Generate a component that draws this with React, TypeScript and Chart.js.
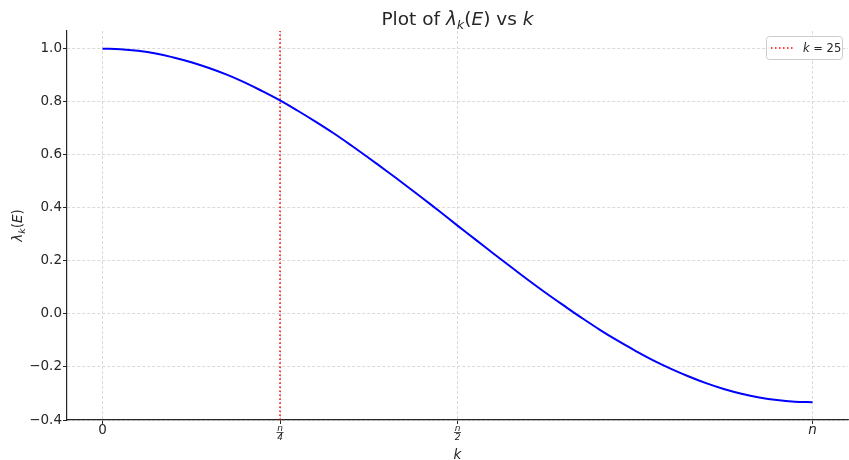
import React, { useEffect, useRef } from 'react';
import { Chart, registerables } from 'chart.js';

Chart.register(...registerables);

// ---- data ----
const kValues = [
  0, 2.5, 5, 7.5, 10, 12.5, 15, 17.5, 20, 22.5, 25, 27.5, 30, 32.5, 35, 37.5, 40, 42.5, 45, 47.5, 50,
  52.5, 55, 57.5, 60, 62.5, 65, 67.5, 70, 72.5, 75, 77.5, 80, 82.5, 85, 87.5, 90, 92.5, 95, 97.5, 100,
];
const lambdaValues = [
  1.0, 0.998, 0.992, 0.982, 0.967, 0.949, 0.927, 0.902, 0.873, 0.84, 0.805, 0.766, 0.725, 0.682,
  0.636, 0.588, 0.539, 0.489, 0.438, 0.386, 0.333, 0.281, 0.229, 0.178, 0.127, 0.078, 0.031,
  -0.015, -0.059, -0.1, -0.138, -0.174, -0.206, -0.235, -0.261, -0.283, -0.301, -0.315, -0.325,
  -0.331, -0.333,
];
const markerK = 25;
const xTickValues = [0, 25, 50, 100];
const xTickLabels: (string | string[])[] = ['0', ['n', '4'], ['n', '2'], 'n'];
const yTickValues = [-0.4, -0.2, 0.0, 0.2, 0.4, 0.6, 0.8, 1.0];
const xMin = -5;
const xMax = 105;
const yMin = -0.4;
const yMax = 1.0667;

const FONT = '"DejaVu Sans", sans-serif';
const TEXT = '#262626';

type Run = { text: string; italic?: boolean; sub?: boolean };

const titleRuns: Run[] = [
  { text: 'Plot of ' },
  { text: 'λ', italic: true },
  { text: 'k', italic: true, sub: true },
  { text: '(' },
  { text: 'E', italic: true },
  { text: ')' },
  { text: ' vs ' },
  { text: 'k', italic: true },
];
const yLabelRuns: Run[] = [
  { text: 'λ', italic: true },
  { text: 'k', italic: true, sub: true },
  { text: '(' },
  { text: 'E', italic: true },
  { text: ')' },
];
const xLabelRuns: Run[] = [{ text: 'k', italic: true }];
const legendRuns: Run[] = [{ text: 'k', italic: true }, { text: ' = 25' }];

function runFont(size: number, r: Run) {
  const s = r.sub ? size * 0.7 : size;
  return `${r.italic ? 'italic ' : ''}${s}px ${FONT}`;
}

function measureRuns(ctx: CanvasRenderingContext2D, runs: Run[], size: number) {
  return runs.map((r) => {
    ctx.font = runFont(size, r);
    return ctx.measureText(r.text).width;
  });
}

function drawRuns(
  ctx: CanvasRenderingContext2D,
  runs: Run[],
  x: number,
  baseline: number,
  size: number,
  align: 'center' | 'left'
) {
  ctx.save();
  ctx.fillStyle = TEXT;
  ctx.textAlign = 'left';
  ctx.textBaseline = 'alphabetic';
  const widths = measureRuns(ctx, runs, size);
  const total = widths.reduce((a, b) => a + b, 0);
  let cx = align === 'center' ? x - total / 2 : x;
  runs.forEach((r, i) => {
    ctx.font = runFont(size, r);
    ctx.fillText(r.text, cx, baseline + (r.sub ? size * 0.22 : 0));
    cx += widths[i];
  });
  ctx.restore();
}

const decorPlugin = {
  id: 'decor',
  afterDraw(chart: any) {
    const ctx: CanvasRenderingContext2D = chart.ctx;
    const area = chart.chartArea;
    const cx = (area.left + area.right) / 2;
    const cy = (area.top + area.bottom) / 2;

    // title
    drawRuns(ctx, titleRuns, cx, 25, 18.5, 'center');
    // x label
    drawRuns(ctx, xLabelRuns, cx, 458.5, 13.5, 'center');
    // y label
    ctx.save();
    ctx.translate(22, cy);
    ctx.rotate(-Math.PI / 2);
    drawRuns(ctx, yLabelRuns, 0, 0, 13.5, 'center');
    ctx.restore();

    // fraction bars for n/4 and n/2 tick labels
    const xs = chart.scales.x;
    ctx.save();
    ctx.strokeStyle = TEXT;
    ctx.lineWidth = 0.8;
    xTickValues.forEach((v, i) => {
      if (Array.isArray(xTickLabels[i])) {
        const px = xs.getPixelForValue(v);
        ctx.beginPath();
        ctx.moveTo(px - 3.5, 432.5);
        ctx.lineTo(px + 3.5, 432.5);
        ctx.stroke();
      }
    });
    ctx.restore();

    // legend box
    const lw = 76;
    const lh = 23;
    const lx = area.right - 6 - lw;
    const ly = area.top + 5;
    ctx.save();
    ctx.fillStyle = 'rgba(255,255,255,0.85)';
    ctx.strokeStyle = '#cccccc';
    ctx.lineWidth = 1;
    ctx.beginPath();
    (ctx as any).roundRect(lx + 0.5, ly + 0.5, lw, lh, 3);
    ctx.fill();
    ctx.stroke();
    ctx.strokeStyle = 'red';
    ctx.lineWidth = 1.5;
    ctx.setLineDash([1.5, 2.5]);
    ctx.beginPath();
    ctx.moveTo(lx + 5, ly + lh / 2 + 0.5);
    ctx.lineTo(lx + 28, ly + lh / 2 + 0.5);
    ctx.stroke();
    ctx.restore();
    drawRuns(ctx, legendRuns, lx + 37, ly + 15.5, 11.5, 'left');
  },
};

export default function App() {
  const ref = useRef<HTMLCanvasElement | null>(null);

  useEffect(() => {
    if (!ref.current) return;
    const chart = new Chart(ref.current, {
      type: 'line',
      data: {
        datasets: [
          {
            label: 'curve',
            data: kValues.map((k, i) => ({ x: k, y: lambdaValues[i] })),
            borderColor: '#0000ff',
            borderWidth: 2,
            pointRadius: 0,
            tension: 0.4,
            fill: false,
          },
          {
            label: 'k = 25',
            data: [
              { x: markerK, y: yMin },
              { x: markerK, y: yMax },
            ],
            borderColor: '#ff0000',
            borderWidth: 1.5,
            borderDash: [1.5, 2.5],
            pointRadius: 0,
            fill: false,
          },
        ],
      },
      options: {
        responsive: false,
        animation: false,
        layout: { padding: { top: 31, right: 1, left: 0, bottom: 0 } },
        plugins: {
          legend: { display: false },
          title: { display: false },
          tooltip: { enabled: false },
        },
        scales: {
          x: {
            type: 'linear',
            min: xMin,
            max: xMax,
            afterFit: (s: any) => {
              s.height = 40;
            },
            afterBuildTicks: (s: any) => {
              s.ticks = xTickValues.map((v) => ({ value: v }));
            },
            ticks: {
              color: TEXT,
              padding: 0,
              maxRotation: 0,
              autoSkip: false,
              callback: (value: any) => {
                const i = xTickValues.indexOf(Number(value));
                return i >= 0 ? xTickLabels[i] : '';
              },
              font: (c: any) => {
                const v = c.tick ? c.tick.value : 0;
                const i = xTickValues.indexOf(v);
                const frac = i >= 0 && Array.isArray(xTickLabels[i]);
                return {
                  family: FONT,
                  size: frac ? 9 : 13.5,
                  style: v === 0 ? 'normal' : 'italic',
                  lineHeight: 1,
                };
              },
            },
            grid: {
              color: '#d0d0d0',
              lineWidth: 0.8,
              tickColor: TEXT,
              tickLength: 4,
              tickWidth: 1,
            },
            border: { display: true, color: TEXT, width: 1.2, dash: [3, 2] },
          },
          y: {
            type: 'linear',
            min: yMin,
            max: yMax,
            afterFit: (s: any) => {
              s.width = 67;
            },
            afterBuildTicks: (s: any) => {
              s.ticks = yTickValues.map((v) => ({ value: v }));
            },
            ticks: {
              color: TEXT,
              padding: 1,
              font: { family: FONT, size: 13.5 },
              callback: (value: any) => Number(value).toFixed(1).replace('-', '−'),
            },
            grid: {
              color: '#d0d0d0',
              lineWidth: 0.8,
              tickColor: TEXT,
              tickLength: 4,
              tickWidth: 1,
            },
            border: { display: true, color: TEXT, width: 1.2, dash: [3, 2] },
          },
        },
      },
      plugins: [decorPlugin],
    } as any);
    return () => chart.destroy();
  }, []);

  return (
    <div style={{ position: 'absolute', left: 0, top: 0, width: 849, height: 460, background: '#fff' }}>
      <canvas ref={ref} width={849} height={460} />
    </div>
  );
}
